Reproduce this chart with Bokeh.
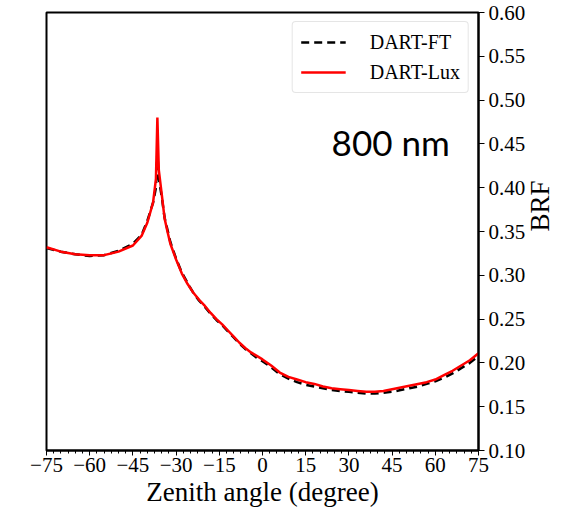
import math
from bokeh.plotting import figure
from bokeh.models import FixedTicker, Legend, LegendItem, Label, Range1d
from bokeh.embed import file_html
from bokeh.resources import INLINE

angle = [-75, -70, -65, -60, -55, -50, -45, -42, -40, -38, -37, -36.5, -36, -35, -34, -33, -32,
         -30, -28, -26, -24, -22, -20, -18, -16, -14, -12, -10, -8, -6, -4, -2, 0,
         3, 6, 9, 12, 15, 18, 21, 24, 27, 30, 33, 36, 39, 42, 45, 48, 51, 54, 57, 60,
         63, 66, 69, 72, 75]
brf_lux = [0.332, 0.327, 0.324, 0.323, 0.323, 0.327, 0.334, 0.345, 0.360, 0.383, 0.410, 0.480, 0.420, 0.393, 0.365, 0.350, 0.336,
           0.318, 0.302, 0.290, 0.280, 0.272, 0.265, 0.257, 0.250, 0.244, 0.237, 0.230, 0.223, 0.217, 0.212, 0.208, 0.204,
           0.197, 0.189, 0.184, 0.181, 0.178, 0.176, 0.173, 0.171, 0.170, 0.169, 0.168, 0.167, 0.167, 0.168, 0.170, 0.172, 0.174, 0.176, 0.178, 0.181,
           0.186, 0.191, 0.197, 0.203, 0.211]
brf_ft = [0.331, 0.327, 0.324, 0.322, 0.323, 0.328, 0.336, 0.346, 0.362, 0.383, 0.400, 0.440, 0.410, 0.390, 0.366, 0.352, 0.338,
          0.319, 0.303, 0.291, 0.280, 0.271, 0.264, 0.256, 0.249, 0.243, 0.236, 0.229, 0.222, 0.216, 0.211, 0.206, 0.202,
          0.195, 0.187, 0.182, 0.178, 0.175, 0.173, 0.171, 0.169, 0.168, 0.167, 0.166, 0.165, 0.165, 0.166, 0.167, 0.169, 0.171, 0.173, 0.176, 0.179,
          0.183, 0.188, 0.194, 0.200, 0.208]

x_ticks = list(range(-75, 76, 15))
x_minor = [-75 + 2.5 * i for i in range(61)]
y_ticks = [0.10, 0.15, 0.20, 0.25, 0.30, 0.35, 0.40, 0.45, 0.50, 0.55, 0.60]
band_label = "800 nm"

SERIF = "Liberation Serif"

p = figure(width=573, height=510, output_backend="svg", toolbar_location=None,
           y_axis_location="right", x_range=Range1d(-75, 75), y_range=Range1d(0.10, 0.60),
           min_border_left=46, min_border_right=89, min_border_top=12, min_border_bottom=60)
p.xgrid.visible = False
p.ygrid.visible = False
p.outline_line_color = "black"
p.outline_line_width = 2
p.background_fill_color = "white"
p.border_fill_color = "white"

r_ft = p.line(angle, brf_ft, line_color="black", line_width=2.5, line_dash="8 5")
r_lux = p.line(angle, brf_lux, line_color="#ff0000", line_width=2.5)

xa = p.xaxis[0]
xa.ticker = FixedTicker(ticks=x_ticks, minor_ticks=x_minor)
xa.major_label_overrides = {t: (str(t).replace("-", "\u2212")) for t in x_ticks}
xa.axis_label = "Zenith angle (degree)"
xa.axis_label_text_font = SERIF
xa.axis_label_text_font_size = "27px"
xa.axis_label_text_font_style = "normal"
xa.axis_label_text_color = "black"
xa.axis_label_standoff = 2
xa.major_label_text_font = SERIF
xa.major_label_text_font_size = "21px"
xa.major_label_text_color = "black"
xa.major_label_standoff = 2
xa.axis_line_width = 2
xa.major_tick_out = 5
xa.major_tick_in = 0
xa.minor_tick_out = 3
xa.minor_tick_in = 0

ya = p.yaxis[0]
ya.ticker = FixedTicker(ticks=y_ticks, minor_ticks=[])
ya.major_label_overrides = {t: f"{t:.2f}" for t in y_ticks}
ya.axis_label = "BRF"
ya.axis_label_text_font = SERIF
ya.axis_label_text_font_size = "27px"
ya.axis_label_text_font_style = "normal"
ya.axis_label_text_color = "black"
ya.axis_label_standoff = 12
ya.axis_label_orientation = math.pi / 2
ya.axis_label_text_align = "center"
ya.major_label_text_font = SERIF
ya.major_label_text_font_size = "21px"
ya.major_label_text_color = "black"
ya.major_label_standoff = 4
ya.axis_line_width = 2
ya.major_tick_out = 6
ya.major_tick_in = 0

legend = Legend(items=[LegendItem(label="DART-FT", renderers=[r_ft]),
                       LegendItem(label="DART-Lux", renderers=[r_lux])],
                location="top_right")
legend.label_text_font = SERIF
legend.label_text_font_size = "20px"
legend.label_text_color = "black"
legend.border_line_color = "#cccccc"
legend.border_line_width = 1
legend.border_radius = 4
legend.glyph_width = 45
legend.glyph_height = 24
legend.label_standoff = 24
legend.spacing = 6
legend.padding = 8
legend.margin = 9
p.add_layout(legend)

p.add_layout(Label(x=24, y=0.428, text=band_label, text_font="Lato",
                   text_font_size="35px", text_color="black"))

open("out.html", "w").write(file_html(p, INLINE))
